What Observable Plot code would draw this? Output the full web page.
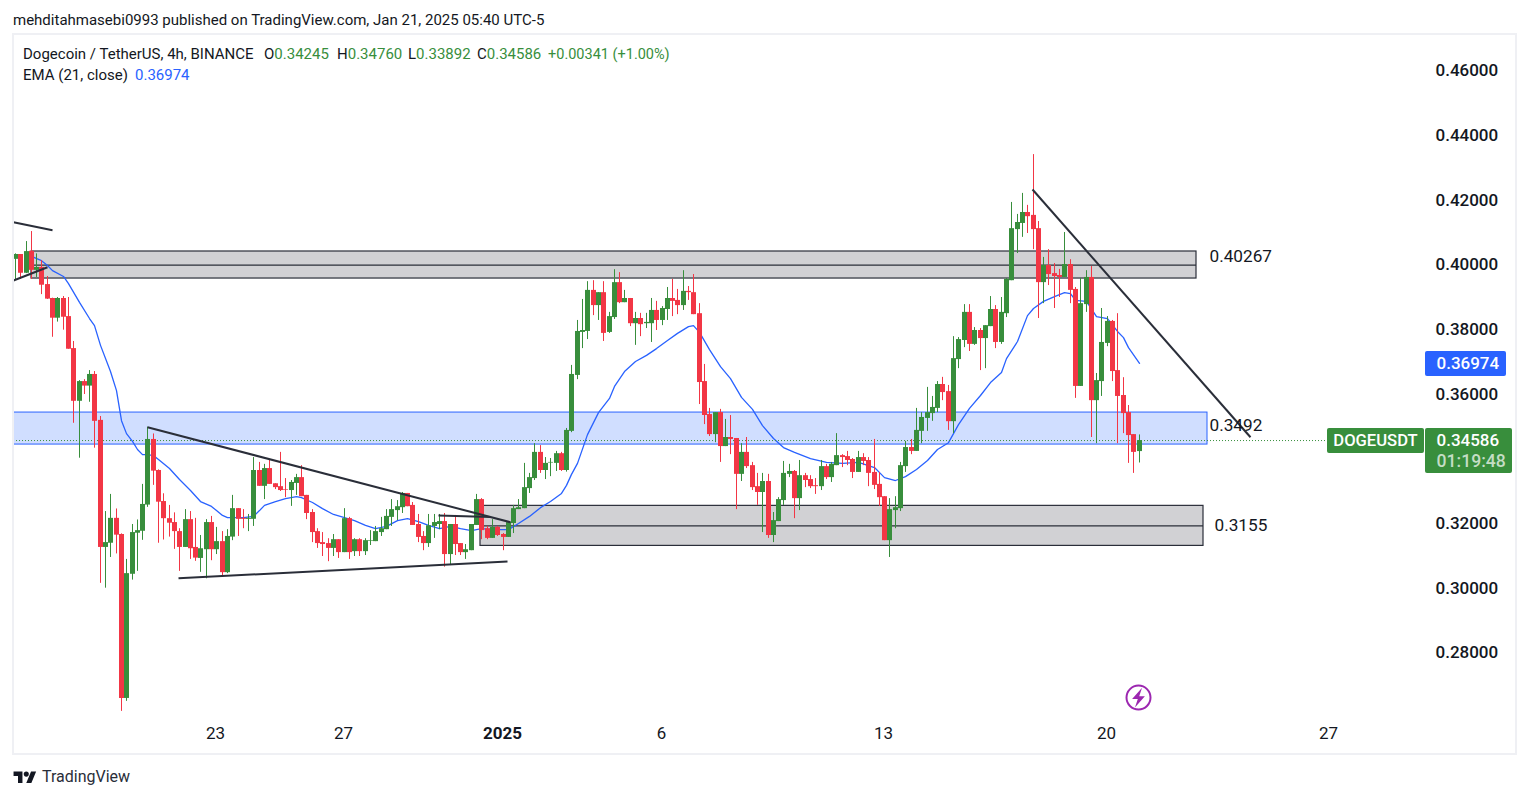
<!DOCTYPE html>
<html>
<head>
<meta charset="utf-8">
<script src="https://cdn.jsdelivr.net/npm/d3@7"></script>
<script src="https://cdn.jsdelivr.net/npm/@observablehq/plot@0.6"></script>
<style>
  html, body { margin: 0; padding: 0; background: #fff; overflow: hidden; }
  #page { position: relative; width: 1529px; height: 798px; font-family: Roboto, sans-serif; color: #131722; }
  #byline { position: absolute; left: 13px; top: 11px; font-size: 15px; line-height: 18px; white-space: nowrap; }
  #frame { position: absolute; left: 12px; top: 33px; width: 1501px; height: 718px; border: 2px solid #eff0f4; pointer-events: none; }
  #chart { position: absolute; left: 0; top: 34px; }
  .leg { position: absolute; font-size: 15px; line-height: 18px; white-space: nowrap; }
  .g { color: #388e3c; } .b { color: #2962ff; }
  #logo { position: absolute; left: 13px; top: 769px; width: 24px; height: 14px; }
  #logotext { position: absolute; left: 42px; top: 768px; font-size: 16px; line-height: 18px; color: #2a2e39; }
</style>
</head>
<body>
<div id="page">
  <div id="byline">mehditahmasebi0993 published on TradingView.com, Jan 21, 2025 05:40 UTC-5</div>
  <div id="chart"></div>
  <div id="frame"></div>
  <div class="leg" style="left:23px;top:45px">Dogecoin / TetherUS, 4h, BINANCE</div>
  <div class="leg" style="left:264px;top:45px">O<span class="g">0.34245</span></div>
  <div class="leg" style="left:337px;top:45px">H<span class="g">0.34760</span></div>
  <div class="leg" style="left:408px;top:45px">L<span class="g">0.33892</span></div>
  <div class="leg" style="left:477px;top:45px">C<span class="g">0.34586</span></div>
  <div class="leg g" style="left:548px;top:45.5px;font-size:14.5px">+0.00341 (+1.00%)</div>
  <div class="leg" style="left:23px;top:66px">EMA (21, close)</div>
  <div class="leg b" style="left:135px;top:66px">0.36974</div>
  <svg id="logo" viewBox="0 0 36 22"><path fill="#131722" d="M14 22H7V11H0V4h14v18ZM28 22h-8l7.5-18h8L28 22Z"/><circle fill="#131722" cx="20" cy="8" r="4"/></svg>
  <div id="logotext">TradingView</div>
</div>
<script>
const opens = [.4019,.4034,.3976,.4044,.3985,.3994,.3941,.3898,.3837,.3898,.3842,.3743,.3580,.3641,.3627,.3663,.3521,.3128,.3141,.3218,.3168,.2661,.3045,.3172,.3178,.3259,.3462,.3366,.3270,.3217,.3205,.3177,.3128,.3214,.3128,.3094,.3121,.3205,.3121,.3146,.3050,.3160,.3248,.3218,.3215,.3215,.3366,.3317,.3372,.3325,.3316,.3307,.3304,.3326,.3344,.3289,.3236,.3177,.3143,.3140,.3125,.3152,.3112,.3217,.3115,.3152,.3115,.3147,.3146,.3174,.3183,.3221,.3242,.3251,.3295,.3258,.3199,.3162,.3140,.3193,.3199,.3208,.3106,.3199,.3140,.3112,.3118,.3196,.3276,.3186,.3156,.3190,.3168,.3159,.3202,.3245,.3248,.3310,.3341,.3422,.3366,.3389,.3388,.3418,.3366,.3487,.3660,.3793,.3796,.3923,.3876,.3916,.3793,.3839,.3947,.3885,.3898,.3820,.3836,.3820,.3820,.3861,.3830,.3864,.3898,.3892,.3876,.3920,.3916,.3851,.3641,.3539,.3477,.3545,.3440,.3468,.3465,.3354,.3422,.3381,.3316,.3298,.3332,.3165,.3208,.3273,.3354,.3363,.3279,.3350,.3338,.3319,.3316,.3378,.3344,.3381,.3412,.3409,.3400,.3360,.3406,.3397,.3360,.3323,.3285,.3149,.3242,.3248,.3378,.3437,.3425,.3487,.3527,.3542,.3558,.3632,.3610,.3517,.3709,.3768,.3855,.3756,.3799,.3774,.3811,.3864,.3762,.3851,.3953,.4111,.4130,.4164,.4155,.4114,.3947,.4000,.3975,.3969,.3963,.4003,.3926,.3626,.3879,.3963,.3582,.3641,.3759,.3827,.3675,.3598,.3545,.3477,.34245];
const highs = [.4036,.4034,.4074,.4105,.4036,.4015,.3966,.3899,.3901,.3904,.3901,.3765,.3644,.3647,.3675,.3672,.3533,.3239,.3292,.3247,.3170,.3091,.3199,.3213,.3323,.3500,.3479,.3368,.3294,.3258,.3235,.3186,.3245,.3239,.3218,.3165,.3214,.3224,.3190,.3177,.3183,.3289,.3248,.3245,.3230,.3406,.3391,.3385,.3400,.3325,.3422,.3341,.3335,.3354,.3381,.3289,.3245,.3186,.3174,.3155,.3168,.3152,.3248,.3221,.3155,.3155,.3155,.3180,.3193,.3221,.3245,.3276,.3273,.3298,.3295,.3267,.3230,.3177,.3230,.3230,.3230,.3233,.3199,.3227,.3140,.3137,.3199,.3292,.3279,.3193,.3214,.3193,.3171,.3208,.3258,.3276,.3388,.3357,.3449,.3443,.3406,.3403,.3425,.3422,.3496,.3691,.3830,.3895,.3950,.3953,.3916,.3950,.3855,.3987,.3978,.3923,.3898,.3855,.3852,.3852,.3898,.3889,.3873,.3932,.3957,.3926,.3984,.3935,.3972,.3882,.3694,.3558,.3545,.3555,.3524,.3536,.3465,.3449,.3468,.3391,.3357,.3357,.3354,.3236,.3282,.3394,.3385,.3366,.3397,.3357,.3350,.3341,.3397,.3385,.3391,.3480,.3415,.3425,.3403,.3425,.3418,.3406,.3462,.3360,.3285,.3279,.3285,.3391,.3456,.3462,.3558,.3545,.3623,.3595,.3641,.3654,.3629,.3780,.3777,.3879,.3879,.3808,.3805,.3814,.3904,.3876,.3901,.3960,.4195,.4158,.4223,.4186,.4343,.4136,.4025,.4049,.4006,.3988,.4102,.4018,.3932,.3960,.3984,.3997,.3666,.3867,.3842,.3830,.3851,.3653,.3567,.3477,.34760];
const lows = [.3954,.3957,.3975,.3957,.3963,.3910,.3895,.3778,.3825,.3800,.3741,.3512,.3404,.3601,.3577,.3435,.3017,.3002,.3097,.3108,.2621,.2652,.3027,.3054,.3150,.3252,.3320,.3141,.3151,.3160,.3122,.3054,.3128,.3091,.3085,.3051,.3031,.3087,.3106,.3036,.3047,.3149,.3162,.3186,.3177,.3193,.3317,.3276,.3323,.3307,.3301,.3282,.3255,.3289,.3285,.3214,.3143,.3125,.3100,.3084,.3100,.3094,.3112,.3091,.3100,.3100,.3103,.3134,.3146,.3162,.3183,.3193,.3211,.3233,.3254,.3196,.3143,.3118,.3128,.3156,.3183,.3067,.3072,.3103,.3103,.3091,.3118,.3196,.3152,.3152,.3156,.3162,.3118,.3159,.3171,.3245,.3248,.3295,.3335,.3357,.3338,.3347,.3363,.3363,.3361,.3483,.3647,.3743,.3771,.3845,.3830,.3765,.3790,.3833,.3882,.3885,.3811,.3753,.3780,.3805,.3762,.3799,.3814,.3830,.3842,.3848,.3861,.3892,.3848,.3570,.3508,.3471,.3452,.3391,.3440,.3415,.3245,.3332,.3372,.3304,.3258,.3174,.3156,.3143,.3208,.3258,.3344,.3217,.3242,.3313,.3310,.3292,.3304,.3338,.3329,.3381,.3375,.3381,.3341,.3360,.3381,.3316,.3307,.3255,.3149,.3097,.3186,.3239,.3360,.3415,.3425,.3449,.3487,.3518,.3545,.3582,.3490,.3480,.3681,.3746,.3734,.3753,.3675,.3681,.3811,.3743,.3756,.3839,.3953,.4037,.4087,.4099,.4049,.3836,.3882,.3938,.3867,.3901,.3963,.3882,.3589,.3626,.3855,.3468,.3449,.3595,.3749,.3641,.3449,.3480,.3388,.3357,.33892];
const closes = [.4034,.3976,.4043,.3985,.3994,.3939,.3896,.3837,.3898,.3840,.3741,.3580,.3641,.3627,.3663,.3518,.3128,.3143,.3218,.3166,.2661,.3047,.3174,.3180,.3261,.3462,.3364,.3268,.3217,.3203,.3177,.3128,.3214,.3124,.3095,.3124,.3205,.3121,.3146,.3050,.3162,.3248,.3215,.3215,.3218,.3366,.3317,.3372,.3323,.3313,.3304,.3305,.3329,.3344,.3285,.3233,.3174,.3140,.3137,.3125,.3152,.3112,.3217,.3112,.3152,.3115,.3149,.3149,.3177,.3186,.3224,.3245,.3254,.3295,.3254,.3196,.3159,.3140,.3195,.3205,.3208,.3106,.3199,.3137,.3112,.3121,.3199,.3276,.3180,.3156,.3190,.3165,.3159,.3205,.3248,.3251,.3313,.3344,.3422,.3366,.3388,.3391,.3418,.3366,.3490,.3663,.3796,.3799,.3923,.3876,.3916,.3790,.3842,.3947,.3885,.3898,.3820,.3836,.3817,.3824,.3861,.3830,.3867,.3898,.3889,.3876,.3920,.3916,.3848,.3638,.3536,.3477,.3545,.3440,.3468,.3462,.3354,.3422,.3378,.3313,.3298,.3332,.3165,.3211,.3276,.3357,.3363,.3279,.3350,.3335,.3316,.3316,.3378,.3344,.3385,.3412,.3406,.3397,.3360,.3406,.3394,.3357,.3320,.3282,.3149,.3245,.3251,.3381,.3437,.3425,.3490,.3530,.3545,.3561,.3632,.3607,.3517,.3712,.3771,.3855,.3756,.3799,.3774,.3814,.3864,.3762,.3855,.3957,.4114,.4133,.4164,.4151,.4111,.3947,.4000,.3972,.3966,.3963,.4003,.3923,.3626,.3882,.3963,.3582,.3644,.3762,.3827,.3672,.3595,.3542,.3474,.3422,.34586];

const emaBars = [3,5,6,7,9,10,12,14,15,16,18,19,20,21,22,23,24,25,26,27,29,31,33,35,37,38,39,40,43,45,46,47,49,51,53,54,56,58,60,62,64,66,68,70,72,74,76,78,80,82,84,86,88,90,93,95,97,99,101,103,104,105,106,108,110,112,113,115,117,119,121,123,125,127,128,129,131,133,135,137,139,141,143,145,147,150,153,156,159,162,164,166,168,170,172,174,176,178,180,182,184,186,187,189,191,192,194,196,198,199,200,202,204,206,208,209,210,212];
const emaValues = [.4028,.4015,.4000,.3984,.3966,.3944,.3886,.3836,.3814,.3753,.3672,.3613,.3520,.3480,.3456,.3431,.3415,.3415,.3412,.3400,.3372,.3338,.3304,.3270,.3255,.3242,.3227,.3220,.3220,.3224,.3242,.3258,.3270,.3279,.3285,.3282,.3267,.3248,.3230,.3220,.3211,.3196,.3186,.3193,.3211,.3217,.3208,.3196,.3186,.3193,.3186,.3180,.3186,.3183,.3183,.3202,.3224,.3251,.3270,.3295,.3320,.3354,.3388,.3477,.3545,.3589,.3626,.3672,.3703,.3722,.3743,.3768,.3790,.3811,.3814,.3793,.3740,.3687,.3650,.3592,.3555,.3505,.3465,.3437,.3422,.3403,.3391,.3388,.3391,.3375,.3344,.3335,.3347,.3369,.3397,.3431,.3452,.3508,.3558,.3598,.3638,.3669,.3712,.3765,.3845,.3867,.3889,.3904,.3916,.3913,.3892,.3889,.3842,.3836,.3796,.3777,.3746,.36974];

const priceTicks = [.46,.44,.42,.40,.38,.36,.32,.30,.28];
const dayTickDates = ["2024-12-23","2024-12-27","2025-01-06","2025-01-13","2025-01-20","2025-01-27"];
const dayTickLabels = ["23","27","6","13","20","27"];
const yearTickDate = "2025-01-01";
const yearTickLabel = "2025";

// Drawn zones: first and last bar, top, middle and bottom price, printed label.
const grayZones = [
  {b1: 3, b2: 222.9, top: .40433, mid: .40012, bottom: .39597},
  {b1: 87.83, b2: 224.06, top: .32566, mid: .31947, bottom: .31328}
];
const blueZone = [{b1: -0.38, b2: 225, top: .35452, bottom: .34462}];
const zoneLabels = [
  {bar: 225.3, price: .40277, text: "0.40267"},
  {bar: 225.3, price: .35050, text: "0.3492"},
  {bar: 226.2, price: .31957, text: "0.3155"}
];
// Trend lines: [startBar, startPrice, endBar, endPrice]
const trendLines = [
  [-0.38, .41338, 6.92, .41091],
  [-0.38, .39535, 5.98, .39946],
  [24.85, .34997, 93.4, .32059],
  [30.75, .30327, 92.83, .30843],
  [79.81, .32266, 89.62, .32220],
  [191.83, .42350, 233.02, .34688]
];

const lastClose = .34586, lastEma = .36974;
const H4 = 4 * 3600e3;
const lastBarTime = Date.UTC(2025, 0, 21, 3);
const barTime = i => new Date(lastBarTime - (212 - i) * H4);
const tickTime = s => new Date(s + "T03:00:00Z");

const candles = opens.map((o, i) => ({t: barTime(i), o, h: highs[i], l: lows[i], c: closes[i]}));
const upColor = "#388e3c", downColor = "#f23645", blue = "#2962ff", ink = "#131722", lineInk = "#2a2e39";
const colorOf = d => d.c >= d.o ? upColor : downColor;
const ema = emaBars.map((b, i) => ({t: barTime(b), v: emaValues[i]}));
const segs = trendLines.map(([a, p, b, q]) => ({x1: barTime(a), y1: p, x2: barTime(b), y2: q}));
const bolt = {draw(ctx, size) {
  const s = Math.sqrt(size) / 10;
  ctx.moveTo(2.5 * s, -7 * s); ctx.lineTo(-4.5 * s, 1 * s); ctx.lineTo(-0.5 * s, 1 * s);
  ctx.lineTo(-2.5 * s, 7 * s); ctx.lineTo(4.5 * s, -1 * s); ctx.lineTo(0.5 * s, -1 * s); ctx.closePath();
}};

const fnt = 17;
const plot = Plot.plot({
  width: 1529, height: 720,
  marginLeft: 13, marginRight: 104, marginTop: 0, marginBottom: 36,
  style: {fontFamily: "Roboto, sans-serif", background: "transparent", color: ink},
  x: {type: "utc", domain: [barTime(-0.377), barTime(266.04)], range: [13, 1425], round: true},
  y: {domain: [.28, .46], range: [619, 37]},
  marks: [
    Plot.rect(grayZones, {x1: d => barTime(d.b1), x2: d => barTime(d.b2), y1: "top", y2: "bottom", fill: "#d1d1d4", stroke: lineInk, strokeWidth: 1.2}),
    Plot.ruleY(grayZones, {y: "mid", x1: d => barTime(d.b1), x2: d => barTime(d.b2), stroke: lineInk, strokeWidth: 1.2}),
    Plot.rect(blueZone, {x1: d => barTime(d.b1), x2: d => barTime(d.b2), y1: "top", y2: "bottom", fill: "#d0deff", stroke: blue, strokeWidth: 1}),
    Plot.line(ema, {x: "t", y: "v", stroke: blue, strokeWidth: 1.3, curve: "linear"}),
    Plot.ruleY([lastClose], {x1: barTime(-0.38), x2: barTime(247.7), stroke: upColor, strokeWidth: 1, strokeDasharray: "1 2"}),
    Plot.ruleX(candles, {x: "t", y1: "l", y2: "h", stroke: colorOf, strokeWidth: 1}),
    Plot.ruleX(candles, {x: "t", y1: "o", y2: "c", stroke: colorOf, strokeWidth: 5}),
    Plot.link(segs, {x1: "x1", y1: "y1", x2: "x2", y2: "y2", stroke: lineInk, strokeWidth: 2}),
    Plot.text(zoneLabels, {x: d => barTime(d.bar), y: "price", text: "text", textAnchor: "start", fontSize: 17.2, fill: ink}),
    // Price tags
    Plot.rect([0], {x1: barTime(247.6), x2: barTime(265.85), y1: .34957, y2: .34184, fill: upColor, rx: 2}),
    Plot.rect([0], {x1: barTime(266.04), x2: barTime(282.45), y1: .34957, y2: .33566, fill: upColor, rx: 2}),
    Plot.rect([0], {x1: barTime(266.04), x2: barTime(281.3), y1: .37339, y2: .36566, fill: blue, rx: 2}),
    Plot.text(["DOGEUSDT"], {x: barTime(256.7), y: lastClose, fontSize: 16.6, fontWeight: 500, fill: "#fff"}),
    Plot.text([lastClose.toFixed(5)], {x: barTime(268.2), y: lastClose, textAnchor: "start", fontSize: fnt, fontWeight: 500, fill: "#fff"}),
    Plot.text(["01:19:48"], {x: barTime(268.2), y: .33937, textAnchor: "start", fontSize: 17.6, fontWeight: 500, fill: "#c4ddc5"}),
    Plot.text([lastEma.toFixed(5)], {x: barTime(268.2), y: lastEma, textAnchor: "start", fontSize: fnt, fontWeight: 500, fill: "#fff"}),
    // Alert icon
    Plot.dot([0], {x: barTime(211.9), y: .26637, r: 12, fill: "#fff", stroke: "#9c27b0", strokeWidth: 2}),
    Plot.dot([0], {x: barTime(211.9), y: .26637, r: 8, fill: "#9c27b0", stroke: "none", symbol: bolt}),
    // Axes
    Plot.axisY(priceTicks, {anchor: "right", tickSize: 0, tickPadding: 10, dy: -0.5, tickFormat: d => d.toFixed(5), fontSize: fnt, fontWeight: 500, label: null}),
    Plot.axisX(dayTickDates.map(tickTime), {tickSize: 0, tickPadding: 8, dx: -1, tickFormat: (d, i) => dayTickLabels[i], fontSize: fnt, label: null}),
    Plot.axisX([tickTime(yearTickDate)], {tickSize: 0, tickPadding: 8, dx: -1, tickFormat: () => yearTickLabel, fontSize: fnt, fontWeight: 700, label: null})
  ]
});
document.getElementById("chart").appendChild(plot);
</script>
</body>
</html>
